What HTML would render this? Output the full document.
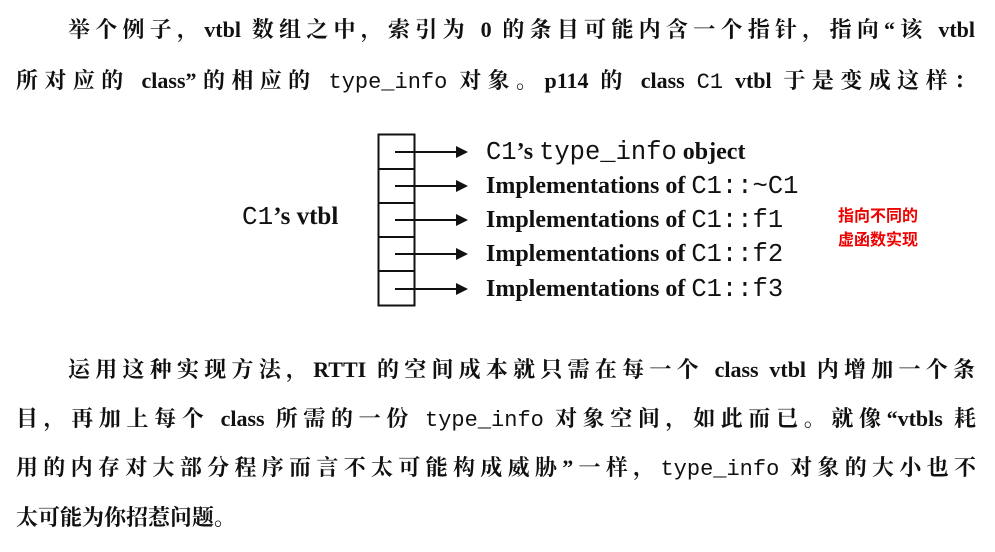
<!DOCTYPE html>
<html><head><meta charset="utf-8"><style>
body{margin:0;width:995px;height:552px;background:#fff;position:relative;overflow:hidden;font-family:"Liberation Serif","Noto Serif CJK SC",serif;color:#111;}
.l{position:absolute;left:16px;width:960px;font-size:22px;font-weight:bold;text-align:justify;text-align-last:justify;white-space:nowrap;line-height:30px}
.m{font-family:"Liberation Mono",monospace;font-weight:normal}
.t{position:absolute;font-size:24px;font-weight:bold;white-space:nowrap;line-height:26px}
.t .m{font-size:25.5px}
.red{position:absolute;left:838px;top:202px;color:#e00;font-family:"Noto Sans CJK SC",sans-serif;font-weight:bold;font-size:16px;line-height:24px}
</style></head><body>
<div class="l" style="top:15px;left:68px;width:907px">举个例子，vtbl 数组之中，索引为 0 的条目可能内含一个指针，指向“该 vtbl</div>
<div class="l" style="top:66px;width:960px">所对应的 class”的相应的 <span class="m">type_info</span> 对象。p114 的 class <span class="m">C1</span> vtbl 于是变成这样：</div>
<svg style="position:absolute;left:0;top:0" width="995" height="552">
<rect x="378.5" y="134.5" width="36" height="171" fill="none" stroke="#111" stroke-width="2"/>
<g stroke="#111" stroke-width="2">
<line x1="379" y1="169" x2="414" y2="169"/><line x1="379" y1="203" x2="414" y2="203"/><line x1="379" y1="237" x2="414" y2="237"/><line x1="379" y1="271" x2="414" y2="271"/>
<line x1="395" y1="152" x2="458" y2="152"/><line x1="395" y1="186" x2="458" y2="186"/><line x1="395" y1="220" x2="458" y2="220"/><line x1="395" y1="254" x2="458" y2="254"/><line x1="395" y1="289" x2="458" y2="289"/>
</g>
<g fill="#111">
<polygon points="456,146 468,152 456,158"/><polygon points="456,180 468,186 456,192"/><polygon points="456,214 468,220 456,226"/><polygon points="456,248 468,254 456,260"/><polygon points="456,283 468,289 456,295"/>
</g>
</svg>
<div class="t" style="left:242px;top:204px;font-size:25px"><span class="m" style="font-size:26px">C1</span>’s vtbl</div>
<div class="t" style="left:486px;top:139px"><span class="m">C1</span>’s <span class="m">type_info</span> object</div>
<div class="t" style="left:486px;top:173px">Implementations of <span class="m">C1::~C1</span></div>
<div class="t" style="left:486px;top:207px">Implementations of <span class="m">C1::f1</span></div>
<div class="t" style="left:486px;top:241px">Implementations of <span class="m">C1::f2</span></div>
<div class="t" style="left:486px;top:276px">Implementations of <span class="m">C1::f3</span></div>
<div class="red">指向不同的<br>虚函数实现</div>
<div class="l" style="top:355px;left:68px;width:907px">运用这种实现方法，RTTI 的空间成本就只需在每一个 class vtbl 内增加一个条</div>
<div class="l" style="top:404px">目，再加上每个 class 所需的一份 <span class="m">type_info</span> 对象空间，如此而已。就像“vtbls 耗</div>
<div class="l" style="top:453px">用的内存对大部分程序而言不太可能构成威胁”一样，<span class="m">type_info</span> 对象的大小也不</div>
<div class="l" style="top:503px;text-align-last:left">太可能为你招惹问题。</div>
</body></html>
